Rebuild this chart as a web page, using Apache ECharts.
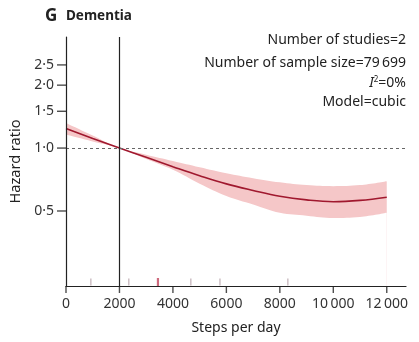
<!DOCTYPE html>
<html><head><meta charset="utf-8">
<script src="https://cdn.jsdelivr.net/npm/echarts@6/dist/echarts.min.js"></script>
<style>html,body{margin:0;padding:0;background:#fff}#c{width:419px;height:342px}</style>
</head><body><div id="c"></div>
<script>
// Data
const steps = [0, 1000, 2000, 3000, 4000, 5000, 6000, 7000, 8000, 9000, 10000, 11000, 12000];
const hr    = [1.24, 1.112, 1.0, 0.903, 0.815, 0.738, 0.674, 0.627, 0.588, 0.565, 0.554, 0.562, 0.582];
const upper = [1.32, 1.15, 1.0, 0.93, 0.868, 0.81, 0.758, 0.718, 0.686, 0.665, 0.657, 0.665, 0.694];
const lower = [1.16, 1.075, 1.0, 0.886, 0.787, 0.675, 0.59, 0.537, 0.49, 0.475, 0.463, 0.468, 0.49];
const rugSteps = [930, 2350, 3440, 4670, 5760, 8300];
const rugHighlight = [false, false, true, false, false, false];
const yTicks = [0.5, 1.0, 1.5, 2.0, 2.5];
const yTickLabels = ['0·5', '1·0', '1·5', '2·0', '2·5'];
const xTicks = [0, 2000, 4000, 6000, 8000, 10000, 12000];
const xTickLabels = ['0', '2000', '4000', '6000', '8000', '10\u2009000', '12\u2009000'];
const infoLines = ['Number of studies=2', 'Number of sample size=79\u2009699', 'I²=0%', 'Model=cubic'];

// log-scaled hazard ratio axis, shifted so that the axis bottom is 0
const HR_MIN = 0.2188, HR_MAX = 3.40;
const T = v => Math.log10(v) - Math.log10(HR_MIN);
const FONT = 'Noto Sans';
const infoTops = [33, 56, 76, 95];
const chart = echarts.init(document.getElementById('c'));
chart.setOption({
  animation: false,
  textStyle: {fontFamily: FONT},
  grid: {left: 66, right: 13, top: 37, bottom: 56, containLabel: false, outerBoundsMode: 'none'},
  title: {
    left: 40, top: 2,
    text: '{g|G} {d|Dementia}',
    textStyle: {rich: {
      g: {fontSize: 17, fontWeight: 'bold', color: '#222', fontFamily: FONT},
      d: {fontSize: 13.5, fontWeight: 'bold', color: '#222', fontFamily: FONT, padding: [0,0,0,4]}
    }}
  },
  graphic: infoLines.map((t, i) => ({
    type: 'text', right: 13, top: infoTops[i], z: 100,
    style: i === 2 ? {
      text: '{i|I}{s|2}{n|=0%}',
      rich: {i: {fontStyle: 'italic', fontSize: 14, fontFamily: FONT, fill: '#222'},
             s: {fontSize: 8, verticalAlign: 'top', fontFamily: FONT, fill: '#222', padding: [0,0,6,0]},
             n: {fontSize: 14, fontFamily: FONT, fill: '#222'}}
    } : {text: t, fontSize: 14, fontFamily: FONT, fill: '#222'}
  })),
  xAxis: {
    type: 'value', min: 0, max: 12720, z: 6,
    name: 'Steps per day', nameLocation: 'middle', nameGap: 35,
    nameTextStyle: {fontSize: 14, color: '#222'},
    axisLine: {show: true, lineStyle: {color: '#222', width: 1.2}},
    axisTick: {show: false},
    axisLabel: {fontSize: 14, color: '#333', margin: 11, customValues: xTicks,
      formatter: v => xTickLabels[xTicks.indexOf(v)] ?? ''},
    splitLine: {show: false}
  },
  yAxis: {
    type: 'value', min: 0, max: T(HR_MAX), z: 6,
    name: 'Hazard ratio', nameLocation: 'middle', nameGap: 43,
    nameTextStyle: {fontSize: 14.5, color: '#222'},
    axisLine: {show: true, lineStyle: {color: '#222', width: 1.2}},
    axisTick: {show: false},
    axisLabel: {fontSize: 14, color: '#333', margin: 12, customValues: yTicks.map(T),
      formatter: v => { const i = yTicks.findIndex(t => Math.abs(T(t) - v) < 1e-6); return i >= 0 ? yTickLabels[i] : ''; }},
    splitLine: {show: false}
  },
  series: [
    // confidence band: pink fill down to the axis from the upper bound ...
    {type: 'line', symbol: 'none', smooth: 0.4, z: 1,
     lineStyle: {opacity: 0}, areaStyle: {color: '#f5c7c8', opacity: 1, origin: 'start'},
     data: steps.map((s, i) => [s, T(upper[i])])},
    // ... then white fill below the lower bound
    {type: 'line', symbol: 'none', smooth: 0.4, z: 2,
     lineStyle: {opacity: 0}, areaStyle: {color: '#ffffff', opacity: 1, origin: 'start'},
     data: steps.map((s, i) => [s, T(lower[i])])},
    {type: 'line', symbol: 'none', smooth: 0.4, z: 3,
     lineStyle: {color: '#a0182e', width: 1.6},
     data: steps.map((s, i) => [s, T(hr[i])]),
     markLine: {silent: true, symbol: 'none', label: {show: false},
       data: [
         {xAxis: 2000, lineStyle: {color: '#222', width: 1.2, type: 'solid'}},
         {yAxis: T(1), lineStyle: {color: '#666', width: 1.1, type: [3, 3]}}
       ]}
    },
    // rug of study data points
    {type: 'scatter', clip: false, z: 4, symbol: 'rect', symbolOffset: [0, -4],
     data: rugSteps.map((s, i) => ({value: [s, 0],
       symbolSize: rugHighlight[i] ? [2.2, 8] : [1.3, 7],
       itemStyle: {color: rugHighlight[i] ? '#c2455d' : '#b6a2aa'}}))},
    // x-axis tick marks (outward)
    {type: 'scatter', clip: false, z: 7, symbol: 'rect', symbolSize: [1.4, 7], symbolOffset: [0, 3.5],
     itemStyle: {color: '#222'}, data: xTicks.map(v => [v, 0])},
    // y-axis tick marks (outward)
    {type: 'scatter', clip: false, z: 7, symbol: 'rect', symbolSize: [9, 1.4], symbolOffset: [-4.5, 0],
     itemStyle: {color: '#222'}, data: yTicks.map(v => [0, T(v)])}
  ]
});
</script></body></html>
